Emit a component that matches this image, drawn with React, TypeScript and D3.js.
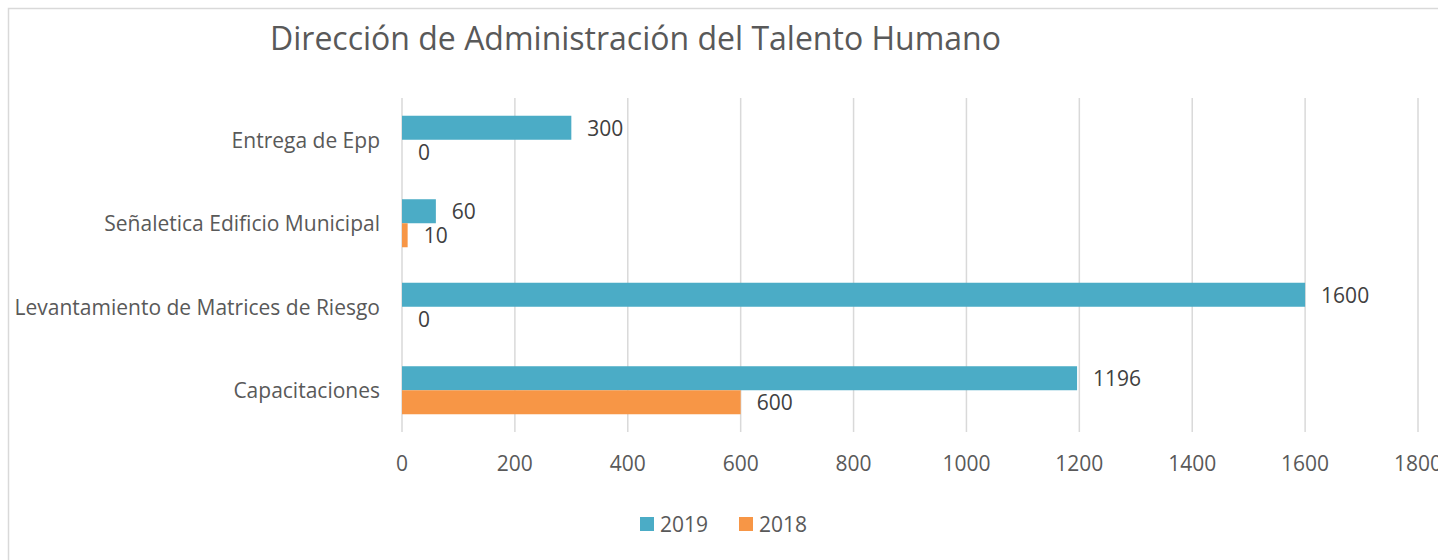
import React from 'react';
import * as d3 from 'd3';

// Chart data
const categories = [
  'Entrega de Epp',
  'Señaletica Edificio Municipal',
  'Levantamiento de Matrices de Riesgo',
  'Capacitaciones',
];
const values2019 = [300, 60, 1600, 1196];
const values2018 = [0, 10, 0, 600];
const seriesNames = ['2019', '2018'];
const xTicks = [0, 200, 400, 600, 800, 1000, 1200, 1400, 1600, 1800];

const COLORS = ['#4BACC6', '#F79646'];
const TEXT = '#595959';
const FONT = '"Open Sans", "Noto Sans", sans-serif';

const App = () => {
  const width = 1438;
  const height = 560;
  const left = 402;
  const right = 1418;
  const top = 98;
  const bottom = 432;

  const x = d3.scaleLinear().domain([0, 1800]).range([left, right]);
  const y = d3.scaleBand<string>().domain(categories).range([top, bottom]).padding(0);
  const barH = (y.bandwidth() * (1 - 0.425)) / 2;

  const series = [values2019, values2018];

  return (
    <svg width={width} height={height} style={{ position: 'absolute', left: 0, top: 0, fontFamily: FONT }}>
      <rect x={0} y={0} width={width} height={height} fill="#fff" />
      <rect x={8.5} y={8.5} width={width + 20} height={height + 20} fill="#fff" stroke="#d9d9d9" strokeWidth={1.5} />

      <text x={270} y={50} fontSize={32} fill={TEXT}>
        Dirección de Administración del Talento Humano
      </text>

      {/* vertical gridlines */}
      {xTicks.map((t) => (
        <line key={t} x1={x(t)} x2={x(t)} y1={top} y2={bottom} stroke="#d9d9d9" strokeWidth={1.5} />
      ))}

      {/* bars and value labels */}
      {categories.map((c, i) => {
        const center = (y(c) as number) + y.bandwidth() / 2;
        return series.map((vals, s) => {
          const y0 = center - barH + s * barH;
          const v = vals[i];
          return (
            <g key={c + s}>
              {v > 0 && (
                <rect x={x(0)} y={y0} width={x(v) - x(0)} height={barH} fill={COLORS[s]} />
              )}
              <text
                x={x(v) + 16}
                y={y0 + barH / 2}
                dominantBaseline="central"
                fontSize={21}
                fill="#404040"
              >
                {v}
              </text>
            </g>
          );
        });
      })}

      {/* category labels */}
      {categories.map((c) => (
        <text
          key={c}
          x={380}
          y={(y(c) as number) + y.bandwidth() / 2}
          textAnchor="end"
          dominantBaseline="central"
          fontSize={21}
          fill={TEXT}
        >
          {c}
        </text>
      ))}

      {/* x tick labels */}
      {xTicks.map((t) => (
        <text key={'l' + t} x={x(t)} y={463} textAnchor="middle" dominantBaseline="central" fontSize={21} fill={TEXT}>
          {t}
        </text>
      ))}

      {/* legend */}
      {seriesNames.map((n, i) => (
        <g key={n} transform={`translate(${640 + i * 99}, 517)`}>
          <rect width={14} height={14} fill={COLORS[i]} />
          <text x={20} y={7} dominantBaseline="central" fontSize={21} fill={TEXT}>
            {n}
          </text>
        </g>
      ))}
    </svg>
  );
};

export default App;
